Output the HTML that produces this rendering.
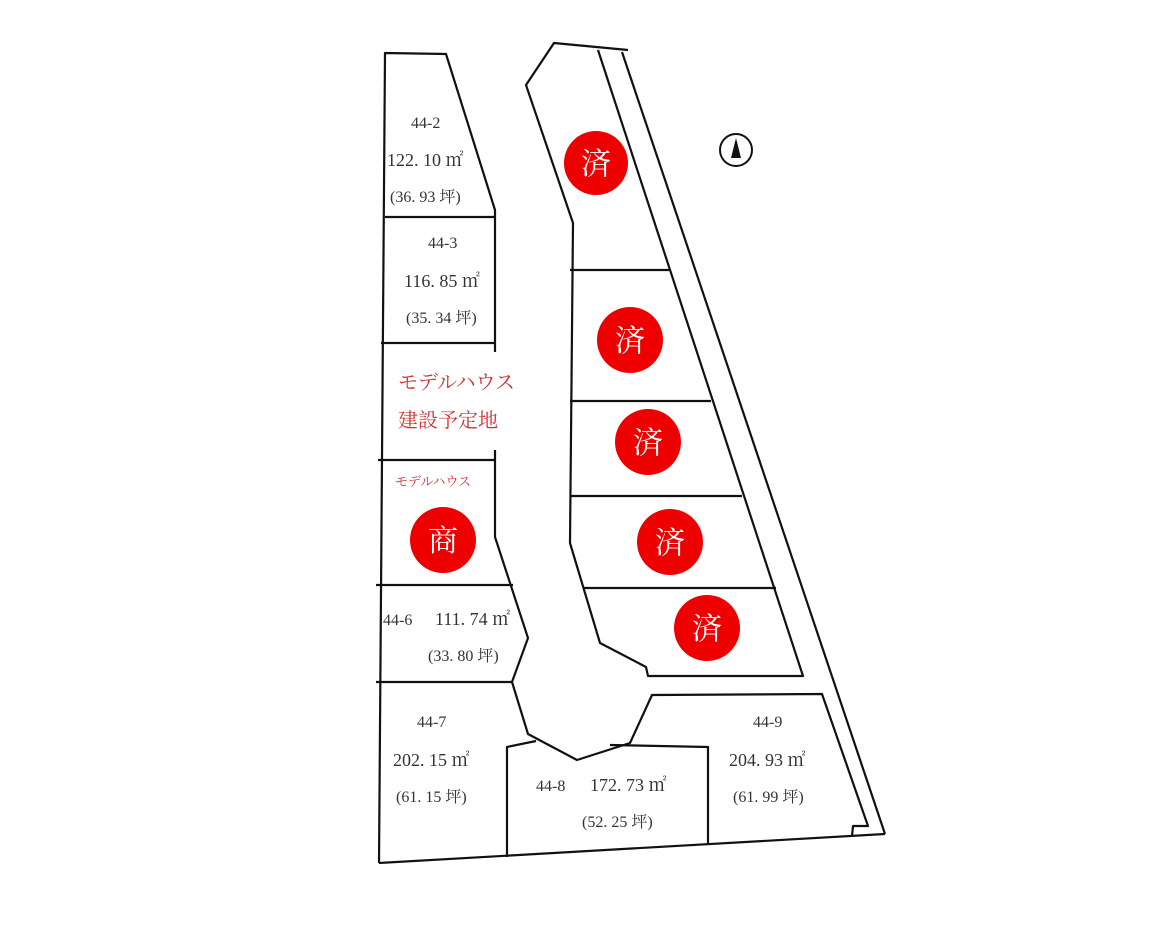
<!DOCTYPE html>
<html><head><meta charset="utf-8"><style>
body{margin:0;background:#fff;}
svg text{font-family:"Liberation Serif","Noto Serif CJK SC",serif;fill:#333;}
.r{fill:#e00;}
.w{fill:#fff;}
</style></head><body>
<svg width="1170" height="936" xmlns="http://www.w3.org/2000/svg">
<g fill="none" stroke="#111" stroke-width="2.2" stroke-linejoin="round">
<!-- left block -->
<polyline points="379,863 385,53 446,54 495,210 495,352"/>
<line x1="385" y1="217" x2="495" y2="217"/>
<line x1="381" y1="343" x2="495" y2="343"/>
<polyline points="495,450 495,537 528,638 512,682 528,734 577,760 630,743 652,695 822,694 868,826 853,826 852,836"/>
<line x1="378" y1="460" x2="495" y2="460"/>
<line x1="376" y1="585" x2="513" y2="585"/>
<line x1="376" y1="682" x2="512" y2="682"/>
<polyline points="507,857 507,747 536,741"/>
<polyline points="610,745 708,747 708,845"/>
<line x1="379" y1="863" x2="885" y2="834"/>
<line x1="622" y1="52" x2="885" y2="834"/>
<polyline points="628,50 554,43 526,85 573,223 570,543 600,643 646,667 648,676 803,676 598,50"/>
<line x1="570" y1="270" x2="670" y2="270"/>
<line x1="570" y1="401" x2="711" y2="401"/>
<line x1="570" y1="496" x2="742" y2="496"/>
<line x1="583" y1="588" x2="776" y2="588"/>
</g>
<circle cx="736" cy="150" r="16" fill="none" stroke="#111" stroke-width="2"/>
<polygon points="736,138 731,158 741,158" fill="#111"/>
<g class="r">
<circle cx="596" cy="163" r="32"/><circle cx="630" cy="340" r="33"/><circle cx="648" cy="442" r="33"/><circle cx="670" cy="542" r="33"/><circle cx="707" cy="628" r="33"/><circle cx="443" cy="540" r="33"/>
</g>
<g font-size="30" text-anchor="middle">
<text class="w" x="596" y="174">済</text><text class="w" x="630" y="351">済</text><text class="w" x="648" y="453">済</text><text class="w" x="670" y="553">済</text><text class="w" x="707" y="639">済</text><text class="w" x="443" y="551">商</text>
</g>
<g font-size="16">
<text x="411" y="128">44-2</text>
<text x="387" y="166" font-size="18">122. 10 ㎡</text>
<text x="390" y="202" font-size="16">(36. 93 坪)</text>
<text x="428" y="248">44-3</text>
<text x="404" y="287" font-size="18">116. 85 ㎡</text>
<text x="406" y="323">(35. 34 坪)</text>
<text x="383" y="625">44-6</text>
<text x="435" y="625" font-size="18">111. 74 ㎡</text>
<text x="428" y="661">(33. 80 坪)</text>
<text x="417" y="727">44-7</text>
<text x="393" y="766" font-size="18">202. 15 ㎡</text>
<text x="396" y="802">(61. 15 坪)</text>
<text x="536" y="791">44-8</text>
<text x="590" y="791" font-size="18">172. 73 ㎡</text>
<text x="582" y="827">(52. 25 坪)</text>
<text x="753" y="727">44-9</text>
<text x="729" y="766" font-size="18">204. 93 ㎡</text>
<text x="733" y="802">(61. 99 坪)</text>
</g>
<g style="fill:#c33" fill="#c33">
<text x="398" y="389" font-size="20" style="fill:#c33">モデルハウス</text>
<text x="398" y="427" font-size="20" style="fill:#c33">建設予定地</text>
<text x="395" y="486" font-size="13" style="fill:#c33">モデルハウス</text>
</g>
</svg>
</body></html>
